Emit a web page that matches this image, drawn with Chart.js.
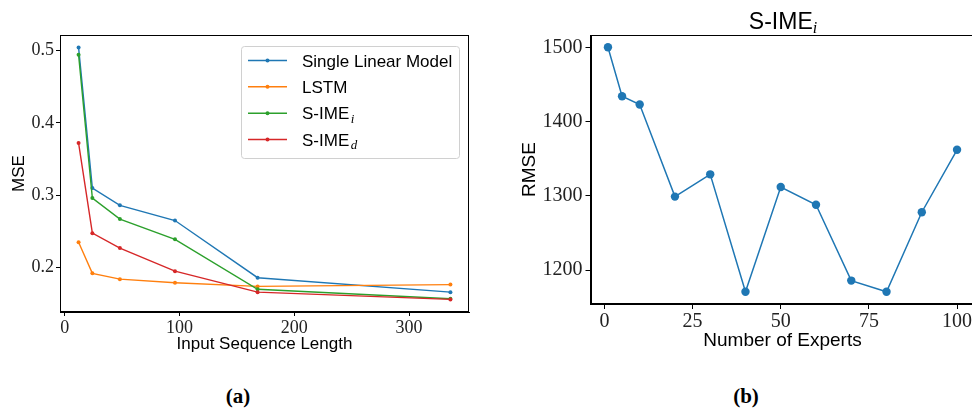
<!DOCTYPE html>
<html><head><meta charset="utf-8">
<script src="https://cdn.jsdelivr.net/npm/chart.js@4.4.1/dist/chart.umd.min.js"></script>
<style>
html,body{margin:0;padding:0;background:#fff;width:972px;height:409px;overflow:hidden;position:relative}
#c1{position:absolute;left:0;top:0;width:480px;height:362px}
#c2{position:absolute;left:490px;top:0;width:500px;height:354px}
.cap{position:absolute;font-family:"Liberation Serif",serif;font-weight:bold;font-size:21px;line-height:21px;text-align:center;width:100px;top:386px;color:#000}
#title2{position:absolute;left:683px;width:200px;top:10px;text-align:center;font-family:"Liberation Sans",sans-serif;font-size:23px;line-height:23px;color:#000}
#title2 sub{font-family:"Liberation Serif",serif;font-style:italic;font-size:16px;vertical-align:-4px;line-height:0}
</style></head><body>
<div id="c1"><canvas id="cv1"></canvas></div>
<div id="c2"><canvas id="cv2"></canvas></div>
<div id="title2">S-IME<sub>i</sub></div>
<div class="cap" style="left:188px">(a)</div>
<div class="cap" style="left:696px">(b)</div>
<script>
// ---- data (a) ----
const seqLengths = [12, 24, 48, 96, 168, 336];
const mseSingleLinear = [0.504, 0.310, 0.286, 0.265, 0.186, 0.166];
const mseLSTM = [0.235, 0.192, 0.184, 0.179, 0.174, 0.1765];
const mseSIMEi = [0.494, 0.296, 0.267, 0.239, 0.170, 0.157];
const mseSIMEd = [0.372, 0.2476, 0.227, 0.195, 0.166, 0.156];
const seriesNames = ['Single Linear Model', 'LSTM', 'S-IME', 'S-IME'];
const seriesSubs = ['', '', 'i', 'd'];
const lengthTicks = [0, 100, 200, 300];
const mseTicks = [0.2, 0.3, 0.4, 0.5];
// ---- data (b) ----
const numExperts = [1, 5, 10, 20, 30, 40, 50, 60, 70, 80, 90, 100];
const rmseSIMEi = [1500, 1434, 1423, 1299, 1329, 1171, 1312, 1288, 1186, 1171, 1278, 1362];
const expertTicks = [0, 25, 50, 75, 100];
const rmseTicks = [1200, 1300, 1400, 1500];

const colors = ['#1f77b4', '#ff7f0e', '#2ca02c', '#d62728'];

const framePlugin = {
  id: 'frame',
  afterDatasetsDraw(chart) {
    const {ctx, chartArea: a} = chart;
    ctx.save();
    ctx.strokeStyle = '#000';
    ctx.lineWidth = 1;
    ctx.strokeRect(Math.round(a.left) + 0.5, Math.round(a.top) + 0.5, Math.round(a.right - a.left) - 1, Math.round(a.bottom - a.top) - 1);
    ctx.restore();
  }
};

const legendPlugin = {
  id: 'mplLegend',
  afterDraw(chart) {
    const ctx = chart.ctx;
    const bx = 241, by = 46, bw = 218, bh = 112;
    ctx.save();
    ctx.beginPath();
    ctx.roundRect(bx + 0.5, by + 0.5, bw, bh, 3);
    ctx.fillStyle = 'rgba(255,255,255,0.8)';
    ctx.fill();
    ctx.strokeStyle = '#d0d0d0';
    ctx.lineWidth = 1;
    ctx.stroke();
    chart.data.datasets.forEach((ds, k) => {
      const y = 60.5 + k * 26.33;
      ctx.strokeStyle = ds.borderColor;
      ctx.lineWidth = 1.5;
      ctx.beginPath(); ctx.moveTo(248, y); ctx.lineTo(287, y); ctx.stroke();
      ctx.fillStyle = ds.borderColor;
      ctx.beginPath(); ctx.arc(267.5, y, 2, 0, Math.PI * 2); ctx.fill();
      ctx.fillStyle = '#000';
      ctx.font = '17px "Liberation Sans"';
      ctx.textBaseline = 'alphabetic';
      ctx.textAlign = 'left';
      ctx.fillText(ds.label, 302, y + 6.2);
      if (ds.sub) {
        const w = ctx.measureText(ds.label).width;
        ctx.font = 'italic 13px "Liberation Serif"';
        ctx.fillText(ds.sub, 302 + w + 1.5, y + 9.5);
      }
    });
    ctx.restore();
  }
};

function fixedTicks(arr) { return s => { s.ticks = arr.map(v => ({value: v})); }; }

function axis(opts) {
  return {
    type: 'linear', min: opts.min, max: opts.max,
    afterBuildTicks: fixedTicks(opts.ticks),
    afterFit: opts.fit,
    grid: {display: true, drawOnChartArea: false, drawTicks: true, tickLength: opts.tl, tickColor: '#000', tickWidth: 1},
    border: {display: true, color: '#000', width: 1},
    ticks: {font: {family: 'Liberation Serif', size: opts.tsize}, color: '#222', padding: opts.tp, maxRotation: 0, autoSkip: false, callback: opts.fmt},
    title: {display: true, text: opts.title, font: {family: 'Liberation Sans', size: opts.fsize}, color: '#000', padding: opts.titlePad}
  };
}

const mseSeries = [mseSingleLinear, mseLSTM, mseSIMEi, mseSIMEd];
new Chart(document.getElementById('cv1'), {
  type: 'line',
  data: {
    datasets: mseSeries.map((vals, k) => ({
      label: seriesNames[k], sub: seriesSubs[k],
      data: seqLengths.map((x, i) => ({x, y: vals[i]})),
      borderColor: colors[k], backgroundColor: colors[k],
      pointBackgroundColor: colors[k], pointBorderWidth: 0, pointRadius: 2,
      borderWidth: 1.4, tension: 0, fill: false, order: 4 - k
    }))
  },
  options: {
    responsive: true, maintainAspectRatio: false, animation: false, events: [],
    layout: {padding: {top: 35, right: 11, left: 0, bottom: 0}},
    plugins: {legend: {display: false}, tooltip: {enabled: false}},
    scales: {
      x: axis({min: -4.2, max: 352.2, ticks: lengthTicks, fit: s => { s.height = 50; }, tl: 4, tp: 1, tsize: 18,
        fmt: v => String(v), title: 'Input Sequence Length', fsize: 17, titlePad: {top: 0, bottom: 7}}),
      y: axis({min: 0.1386, max: 0.5214, ticks: mseTicks, fit: s => { s.width = 60; }, tl: 4, tp: 2, tsize: 18,
        fmt: v => Number(v).toFixed(1), title: 'MSE', fsize: 17, titlePad: {top: 9, bottom: 0}})
    }
  },
  plugins: [framePlugin, legendPlugin]
});

new Chart(document.getElementById('cv2'), {
  type: 'line',
  data: {
    datasets: [{
      label: 'S-IME_i',
      data: numExperts.map((x, i) => ({x, y: rmseSIMEi[i]})),
      borderColor: colors[0], backgroundColor: colors[0],
      pointBackgroundColor: colors[0], pointBorderWidth: 0, pointRadius: 4.2,
      borderWidth: 1.5, tension: 0, fill: false
    }]
  },
  options: {
    responsive: true, maintainAspectRatio: false, animation: false, events: [],
    layout: {padding: {top: 35, right: 15.5, left: 0, bottom: 0}},
    plugins: {legend: {display: false}, tooltip: {enabled: false}},
    scales: {
      x: axis({min: -3.95, max: 104.95, ticks: expertTicks, fit: s => { s.height = 50; }, tl: 5, tp: 1, tsize: 20,
        fmt: v => String(v), title: 'Number of Experts', fsize: 19, titlePad: {top: 0, bottom: 2}}),
      y: axis({min: 1154.5, max: 1516.5, ticks: rmseTicks, fit: s => { s.width = 100.5; }, tl: 5, tp: 3, tsize: 20,
        fmt: v => String(v), title: 'RMSE', fsize: 19, titlePad: {top: 28.5, bottom: 0}})
    }
  },
  plugins: [framePlugin]
});
</script>
</body></html>
